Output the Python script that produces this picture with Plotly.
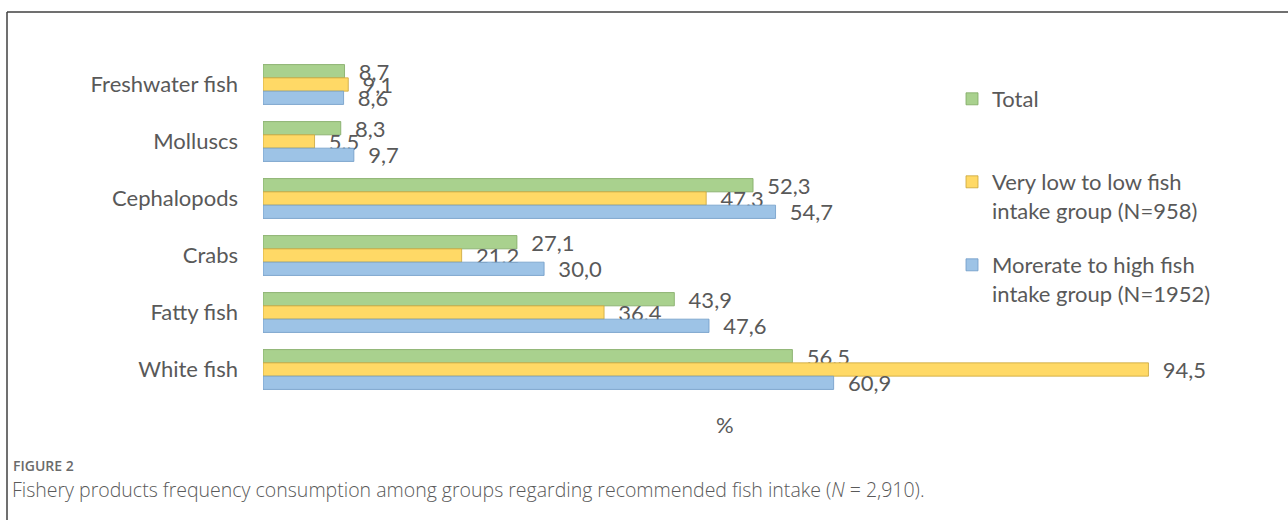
import plotly.graph_objects as go

categories = ["Freshwater fish", "Molluscs", "Cephalopods", "Crabs", "Fatty fish", "White fish"]
total = [8.7, 8.3, 52.3, 27.1, 43.9, 56.5]
low_group = [9.1, 5.5, 47.3, 21.2, 36.4, 94.5]
high_group = [8.6, 9.7, 54.7, 30.0, 47.6, 60.9]
series_names = ["Total",
                "Very low to low fish<br>intake group (N=958)",
                "Morerate to high fish<br>intake group (N=1952)"]
fills = ["#A9D18E", "#FFD966", "#9DC3E6"]
edges = ["#7FA862", "#C9A43A", "#6F9BC6"]

W, H = 1288, 520
L, R, T, B = 263, 88, 56, 122
PW, PH = W - L - R, H - T - B


def px(x):
    return (x - L) / PW


def py(y):
    return (H - B - y) / PH


def fmt(v):
    return "\u00a0\u00a0" + f"{v:.1f}".replace(".", ",")


fig = go.Figure()
legends = ["legend", "legend2", "legend3"]
for name, vals, fc, ec, lg in zip(series_names, [total, low_group, high_group], fills, edges, legends):
    fig.add_trace(go.Bar(
        y=categories, x=vals, orientation="h", name=name,
        marker=dict(color=fc, line=dict(color=ec, width=0.8)),
        text=[fmt(v) for v in vals], textposition="outside",
        textfont=dict(family="Lato", size=22, color="#595959"),
        constraintext="none", cliponaxis=False, legend=lg,
        hoverinfo="skip",
    ))

leg_common = dict(font=dict(family="Lato", size=22, color="#595959"),
                  bgcolor="rgba(0,0,0,0)", xanchor="left", yanchor="top",
                  valign="top", itemclick=False)
fig.update_layout(
    width=W, height=H,
    margin=dict(l=L, r=R, t=T, b=B, pad=0),
    paper_bgcolor="white", plot_bgcolor="white",
    barmode="group", bargap=0.3, bargroupgap=0,
    xaxis=dict(range=[0, 100], showgrid=False, showticklabels=False,
               zeroline=False, showline=False),
    yaxis=dict(autorange="reversed", showgrid=False, showline=False,
               ticks="", ticklabelstandoff=24,
               tickfont=dict(family="Lato", size=22, color="#595959")),
    legend=dict(x=px(952), y=py(78), **leg_common),
    legend2=dict(x=px(952), y=py(161), **leg_common),
    legend3=dict(x=px(952), y=py(244), **leg_common),
    showlegend=True,
)

fig.add_annotation(text="%", xref="paper", yref="paper", x=px(725), y=py(424),
                   xanchor="center", yanchor="middle", showarrow=False,
                   font=dict(family="Lato", size=22, color="#595959"))
fig.add_annotation(text="FIGURE 2", xref="paper", yref="paper", x=px(11), y=py(466),
                   xanchor="left", yanchor="middle", showarrow=False,
                   font=dict(family="Open Sans", size=14, color="#6b6b6b", weight=600))
fig.add_annotation(text="Fishery products frequency consumption among groups regarding recommended fish intake (<i>N</i> = 2,910).",
                   xref="paper", yref="paper", x=px(10), y=py(489),
                   xanchor="left", yanchor="middle", showarrow=False,
                   font=dict(family="Open Sans", size=19.5, color="#5a5a5a", weight=300))

frame = dict(type="line", xref="paper", yref="paper", line=dict(color="#404040", width=1.5))
fig.add_shape(x0=px(7), x1=px(1290), y0=py(12), y1=py(12), **frame)
fig.add_shape(x0=px(7), x1=px(7), y0=py(12), y1=py(522), **frame)

fig.write_html("out.html", config={"displayModeBar": False},
               post_script="document.body.style.margin='0';")
